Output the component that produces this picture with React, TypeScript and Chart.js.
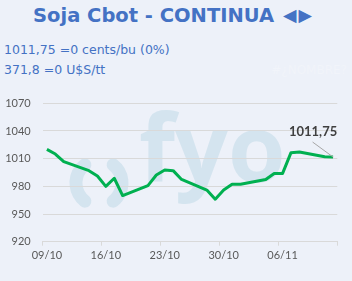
import React, { useEffect, useRef } from "react";
import { Chart, registerables } from "chart.js";

Chart.register(...registerables);

const TITLE = "Soja Cbot - CONTINUA";
const TITLE_ARROWS = "◀▶";
const INFO_LINE_1 = "1011,75 =0 cents/bu (0%)";
const INFO_LINE_2 = "371,8 =0 U$S/tt";
const ERR_TEXT = "#¿NOMBRE?";
const WATERMARK = "fyo";

const dates = [
  "09/10", "10/10", "11/10", "12/10", "13/10", "14/10", "15/10",
  "16/10", "17/10", "18/10", "19/10", "20/10", "21/10", "22/10",
  "23/10", "24/10", "25/10", "26/10", "27/10", "28/10", "29/10",
  "30/10", "31/10", "01/11", "02/11", "03/11", "04/11", "05/11",
  "06/11", "07/11", "08/11", "09/11", "10/11", "11/11", "12/11",
];

const prices: (number | null)[] = [
  1020, 1015, 1006.75, null, null, 997, 991.25,
  980, 988.75, 970, null, null, 980.75, 992.25,
  997.75, 997, 987.5, null, null, 976, 966,
  976, 982.25, 982.25, null, null, 987.5, 994,
  994, 1016.5, 1017.25, null, null, 1012, 1011.75,
];

const Y_MIN = 920;
const Y_MAX = 1070;
const Y_STEP = 30;
const LABEL_EVERY = 7;

const BG = "#edf1f9";
const BLUE = "#4472c4";

const watermarkPlugin = {
  id: "watermark",
  beforeDraw(chart: any) {
    const ctx = chart.ctx;
    ctx.save();
    ctx.fillStyle = "#d4e4ef";
    ctx.strokeStyle = "#d4e4ef";
    ctx.font = "bold 93px 'Open Sans'";
    ctx.textBaseline = "alphabetic";
    ctx.textAlign = "left";
    ctx.fillText(WATERMARK, 139, 182);
    ctx.lineWidth = 13;
    ctx.lineCap = "round";
    ctx.beginPath();
    ctx.arc(99, 183, 23, Math.PI * (180 - 52) / 180, Math.PI * (180 + 52) / 180);
    ctx.stroke();
    ctx.beginPath();
    ctx.arc(99, 183, 23, -Math.PI * 52 / 180, Math.PI * 52 / 180);
    ctx.stroke();
    ctx.restore();
  },
};

const lastLabelPlugin = {
  id: "lastLabel",
  afterDatasetsDraw(chart: any) {
    const meta = chart.getDatasetMeta(0);
    const data = chart.data.datasets[0].data;
    let idx = data.length - 1;
    while (idx >= 0 && data[idx] == null) idx--;
    if (idx < 0) return;
    const pt = meta.data[idx];
    const ctx = chart.ctx;
    ctx.save();
    ctx.strokeStyle = "#a6a6a6";
    ctx.lineWidth = 1;
    ctx.beginPath();
    ctx.moveTo(pt.x - 20.5, pt.y - 15);
    ctx.lineTo(pt.x, pt.y);
    ctx.stroke();
    ctx.fillStyle = "#404040";
    ctx.font = "bold 13px Lato";
    ctx.textAlign = "center";
    ctx.textBaseline = "middle";
    const txt = (data[idx] as number).toFixed(2).replace(".", ",");
    ctx.fillText(txt, pt.x - 20, pt.y - 25);
    ctx.restore();
  },
};

export default function App() {
  const canvasRef = useRef<HTMLCanvasElement | null>(null);

  useEffect(() => {
    if (!canvasRef.current) return;
    const chart = new Chart(canvasRef.current, {
      type: "line",
      data: {
        labels: dates,
        datasets: [
          {
            data: prices,
            borderColor: "#00b050",
            borderWidth: 3,
            pointRadius: 0,
            pointHoverRadius: 0,
            tension: 0,
            spanGaps: true,
            fill: false,
            borderJoinStyle: "round",
          },
        ],
      },
      options: {
        animation: false,
        responsive: false,
        devicePixelRatio: 1,
        events: [],
        layout: { padding: { left: 0, right: 14.7, top: 103.3, bottom: 0 } },
        plugins: {
          legend: { display: false },
          tooltip: { enabled: false },
          title: { display: false },
        },
        scales: {
          x: {
            type: "category",
            offset: true,
            afterFit(scale: any) {
              scale.height = 39.3;
            },
            grid: {
              offset: true,
              drawOnChartArea: false,
              drawTicks: true,
              tickLength: 4,
              color(ctx: any) {
                if (ctx.index === undefined) return "#d9d9d9";
                return ctx.index % LABEL_EVERY === 0 ? "#d9d9d9" : "rgba(0,0,0,0)";
              },
            },
            border: { display: true, color: "#d9d9d9", width: 1 },
            ticks: {
              autoSkip: false,
              maxRotation: 0,
              minRotation: 0,
              padding: 3,
              color: "#595959",
              font: { family: "Lato", size: 11 },
              callback(_v: any, i: number) {
                return i % LABEL_EVERY === 0 ? dates[i] : "";
              },
            },
          },
          y: {
            min: Y_MIN,
            max: Y_MAX,
            afterFit(scale: any) {
              scale.width = 42.7;
            },
            grid: {
              color: "#d9d9d9",
              lineWidth: 1,
              drawTicks: false,
            },
            border: { display: false },
            ticks: {
              stepSize: Y_STEP,
              padding: 12,
              color: "#595959",
              font: { family: "Lato", size: 11 },
              callback(v: any) {
                return String(v);
              },
            },
          },
        },
      },
      plugins: [watermarkPlugin, lastLabelPlugin],
    } as any);
    return () => chart.destroy();
  }, []);

  return (
    <div
      style={{
        position: "absolute",
        left: 0,
        top: 0,
        width: 352,
        height: 281,
        background: BG,
        overflow: "hidden",
      }}
    >
      <div
        style={{
          position: "absolute",
          left: 33,
          top: 3,
          fontFamily: "'DejaVu Sans'",
          fontWeight: "bold",
          fontSize: 19.5,
          lineHeight: "26px",
          color: BLUE,
          whiteSpace: "nowrap",
        }}
      >
        {TITLE}
      </div>
      <div
        style={{
          position: "absolute",
          left: 283,
          top: 2,
          fontFamily: "'DejaVu Sans'",
          fontSize: 17.5,
          lineHeight: "26px",
          letterSpacing: 2,
          color: BLUE,
          whiteSpace: "nowrap",
        }}
      >
        {TITLE_ARROWS}
      </div>
      <div
        style={{
          position: "absolute",
          left: 4,
          top: 40,
          fontFamily: "'DejaVu Sans'",
          fontSize: 12.5,
          lineHeight: "20px",
          color: BLUE,
          whiteSpace: "nowrap",
        }}
      >
        <div>{INFO_LINE_1}</div>
        <div>{INFO_LINE_2}</div>
      </div>
      <div
        style={{
          position: "absolute",
          right: 5,
          top: 60,
          fontFamily: "'DejaVu Sans'",
          fontSize: 12,
          lineHeight: "20px",
          color: "#f1f4fa",
          whiteSpace: "nowrap",
        }}
      >
        {ERR_TEXT}
      </div>
      <canvas
        ref={canvasRef}
        width={352}
        height={281}
        style={{ position: "absolute", left: 0, top: 0, width: 352, height: 281 }}
      />
    </div>
  );
}
